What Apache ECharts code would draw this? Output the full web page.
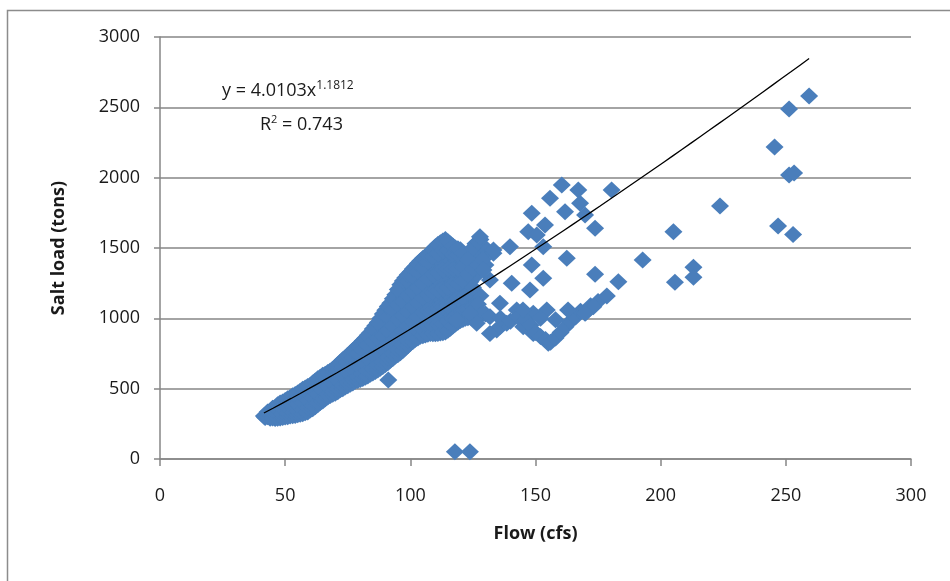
<!DOCTYPE html>
<html>
<head>
<meta charset="utf-8">
<script src="https://cdn.jsdelivr.net/npm/echarts@6/dist/echarts.min.js"></script>
<style>
html,body{margin:0;padding:0;background:#fff;}
#chart{width:950px;height:581px;}
</style>
</head>
<body>
<div id="chart"></div>
<script>
// ---- Data (Flow cfs, Salt load tons) ----
const xTicks = [0, 50, 100, 150, 200, 250, 300];
const yTicks = [0, 500, 1000, 1500, 2000, 2500, 3000];
const xTitle = 'Flow (cfs)';
const yTitle = 'Salt load (tons)';
const trendA = 4.0103;
const trendB = 1.1812;
const rSquared = '0.743';

// dense band of observations (even flows)
const bandPoints = [
  [42,295],[42.5,318],[41.5,305],
  [44,290],[44,320],[44.5,345],
  [46,288],[46,325],[46,365],[46.5,305],
  [48,292],[48,335],[48,375],[48,398],
  [50,298],[50,340],[50,380],[50,415],
  [52,305],[52,350],[52,395],[52,438],
  [54,310],[54,360],[54,410],[54,458],
  [56,318],[56,372],[56,425],[56,482],
  [58,328],[58,385],[58,445],[58,505],
  [60,348],[60,405],[60,465],[60,522],
  [62,372],[62,430],[62,490],[62,555],
  [64,402],[64,460],[64,525],[64,582],
  [66,428],[66,488],[66,548],[66,603],
  [68,452],[68,512],[68,570],[68,625],
  [70,468],[70,530],[70,592],[70,648],
  [72,492],[72,555],[72,622],[72,688],
  [74,512],[74,580],[74,650],[74,718],
  [76,532],[76,600],[76,675],[76,752],
  [78,552],[78,625],[78,705],[78,788],
  [80,566],[80,645],[80,730],[80,818],
  [82,582],[82,668],[82,760],[82,858],
  [84,602],[84,690],[84,790],[84,898],
  [86,622],[86,710],[86,800],[86,880],[86,948],
  [88,646],[88,735],[88,830],[88,920],[88,998],
  [90,672],[90,765],[90,862],[90,960],[90,1058],
  [92,702],[92,795],[92,895],[92,1005],[92,1108],
  [94,732],[94,828],[94,930],[94,1040],[94,1168],
  [96,756],[96,855],[96,960],[96,1080],[96,1150],[96,1238],
  [98,792],[98,890],[98,995],[98,1100],[98,1200],[98,1288],
  [100,822],[100,920],[100,1025],[100,1130],[100,1230],[100,1328],
  [102,852],[102,950],[102,1060],[102,1165],[102,1270],[102,1368],
  [104,872],[104,975],[104,1085],[104,1195],[104,1300],[104,1408],
  [106,882],[106,990],[106,1100],[106,1210],[106,1330],[106,1438],
  [108,892],[108,1000],[108,1115],[108,1230],[108,1350],[108,1468],
  [110,890],[110,1005],[110,1125],[110,1250],[110,1380],[110,1508],
  [112,896],[112,1010],[112,1135],[112,1260],[112,1400],[112,1538],
  [114,902],[114,1020],[114,1150],[114,1280],[114,1420],[114,1560],
  [116,930],[116,1040],[116,1160],[116,1290],[116,1410],[116,1528],
  [118,960],[118,1070],[118,1190],[118,1300],[118,1400],[118,1500],
  [120,985],[120,1090],[120,1200],[120,1310],[120,1400],[120,1488],
  [122,1000],[122,1100],[122,1210],[122,1330],[122,1440],
  [124,1010],[124,1120],[124,1260],[124,1380],[124,1478],
  [126,1030],[126,1140],[126,1300],[126,1420],[126,1530],
  [128,1040],[128,1160],[128,1440],[128,1560],
  [130,1030],[130,1380],[130,1500]
];

// dense band of observations (odd flows)
const bandPoints2 = [
  [43,300],[43,335],
  [45,292],[45,330],[45,360],
  [47,290],[47,315],[47,355],[47,385],
  [49,295],[49,320],[49,358],[49,405],
  [51,300],[51,325],[51,365],[51,400],[51,428],
  [53,308],[53,330],[53,378],[53,420],[53,450],
  [55,315],[55,340],[55,390],[55,440],[55,470],
  [57,322],[57,350],[57,400],[57,455],[57,495],
  [59,335],[59,365],[59,415],[59,475],[59,515],
  [61,358],[61,378],[61,435],[61,495],[61,540],
  [63,385],[63,400],[63,460],[63,520],[63,570],
  [65,412],[65,430],[65,490],[65,550],[65,595],
  [67,440],[67,460],[67,515],[67,575],[67,615],
  [69,460],[69,480],[69,540],[69,600],[69,638],
  [71,478],[71,500],[71,560],[71,625],[71,670],
  [73,500],[73,520],[73,590],[73,655],[73,705],
  [75,520],[75,545],[75,615],[75,690],[75,738],
  [77,540],[77,565],[77,640],[77,720],[77,770],
  [79,558],[79,588],[79,665],[79,750],[79,805],
  [81,572],[81,605],[81,690],[81,775],[81,840],
  [83,590],[83,625],[83,715],[83,810],[83,880],
  [85,612],[85,645],[85,740],[85,835],[85,925],
  [87,632],[87,668],[87,760],[87,855],[87,970],
  [89,658],[89,690],[89,785],[89,880],[89,1030],
  [91,685],[91,720],[91,815],[91,915],[91,1010],[91,1085],
  [93,715],[93,750],[93,845],[93,950],[93,1060],[93,1140],
  [95,742],[95,780],[95,880],[95,990],[95,1100],[95,1205],
  [97,772],[97,810],[97,910],[97,1020],[97,1120],[97,1265],
  [99,805],[99,845],[99,945],[99,1050],[99,1160],[99,1260],[99,1310],
  [101,835],[101,875],[101,980],[101,1085],[101,1190],[101,1300],[101,1350],
  [103,860],[103,905],[103,1010],[103,1115],[103,1220],[103,1330],[103,1390],
  [105,876],[105,930],[105,1040],[105,1145],[105,1250],[105,1360],[105,1425],
  [107,886],[107,945],[107,1055],[107,1170],[107,1280],[107,1400],[107,1455],
  [109,890],[109,950],[109,1060],[109,1185],[109,1310],[109,1440],[109,1490],
  [111,892],[111,955],[111,1070],[111,1195],[111,1325],[111,1460],[111,1525],
  [113,898],[113,960],[113,1080],[113,1210],[113,1345],[113,1480],[113,1550],
  [115,915],[115,975],[115,1090],[115,1220],[115,1350],[115,1480],[115,1545],
  [117,945],[117,1000],[117,1115],[117,1240],[117,1350],[117,1455],[117,1515],
  [119,972],[119,1030],[119,1140],[119,1250],[119,1350],[119,1450],[119,1495],
  [121,992],[121,1045],[121,1150],[121,1265],[121,1370],[121,1465],
  [123,1005],[123,1060],[123,1180],[123,1310],[123,1420],
  [125,1020],[125,1080],[125,1220],[125,1350],[125,1500],
  [127,1035],[127,1100],[127,1380],[127,1545],
  [129,1035],[129,1420]
];

// scattered observations
const scatterPoints = [
  [91.2,562],[117.8,52],[123.8,52],
  [133.2,1462],[131.8,1273],[129.2,1344],[127.8,1580],
  [139.8,1509],[153.1,1509],[133.2,1486],[148.5,1379],[140.5,1249],[147.8,1201],[153.1,1285],[162.5,1427],
  [148.5,1747],[153.8,1663],[147.1,1616],[150.5,1592],[155.8,1853],[160.5,1948],[167.1,1912],[161.8,1758],
  [167.8,1818],[169.8,1735],[180.4,1912],[173.8,1641],
  [123.8,1036],[118.5,988],[126.5,965],[131.8,1012],[134.5,917],[131.8,893],[135.8,941],[135.8,1107],
  [138.5,965],[142.5,1059],[145.1,941],[149.1,1036],[149.1,893],[154.5,1059],[155.1,822],
  [136,1000],[140,980],[143,1010],[146,990],[148,950],[150,900],[152,870],[154,850],[156,830],
  [158,860],[160,900],[162,940],[164,980],[166,1010],[168,1050],[170,1040],[145,1060],[152,1000],
  [158,990],[163,1060],[172,1090],[175,1120],[178.5,1159],
  [173.8,1313],[183.1,1260],[205.7,1256],[213.1,1363],[213.1,1292],[192.8,1415],[205.1,1616],
  [173.1,1083],[169.8,1036],[223.7,1799],
  [245.5,2218],[251.3,2488],[259.3,2581],[251.3,2019],[253.3,2033],[246.9,1656],[252.9,1596]
];

const allPoints = bandPoints.concat(bandPoints2, scatterPoints);

// trendline built from the displayed power-fit coefficients
const xsAll = allPoints.map(p => p[0]);
const xMin = Math.min.apply(null, xsAll), xMax = Math.max.apply(null, xsAll);
const trendPts = [];
for (let i = 0; i <= 60; i++) {
  const x = xMin + (xMax - xMin) * i / 60;
  trendPts.push([x, trendA * Math.pow(x, trendB)]);
}

const chart = echarts.init(document.getElementById('chart'), null, {renderer: 'canvas'});
const FONT = 'Open Sans';
chart.setOption({
  animation: false,
  backgroundColor: '#ffffff',
  grid: {left: 160, right: 39, top: 37, bottom: 122, containLabel: false},
  xAxis: {
    type: 'value', min: xTicks[0], max: xTicks[xTicks.length - 1], interval: 50,
    name: xTitle, nameLocation: 'middle', nameGap: 66,
    nameTextStyle: {fontFamily: FONT, fontWeight: 'bold', fontSize: 18, color: '#1a1a1a'},
    axisLine: {show: true, onZero: false, lineStyle: {color: '#868686', width: 1.5}},
    axisTick: {show: true, inside: false, length: 7, lineStyle: {color: '#868686', width: 1.5}},
    axisLabel: {margin: 28, fontFamily: FONT, fontSize: 18, color: '#1a1a1a',
                formatter: v => String(v)},
    splitLine: {show: false}
  },
  yAxis: {
    type: 'value', min: yTicks[0], max: yTicks[yTicks.length - 1], interval: 500,
    name: yTitle, nameLocation: 'middle', nameGap: 92, nameRotate: 90,
    nameTextStyle: {fontFamily: FONT, fontWeight: 'bold', fontSize: 18, color: '#1a1a1a'},
    axisLine: {show: true, onZero: false, lineStyle: {color: '#868686', width: 1.5}},
    axisTick: {show: true, inside: false, length: 6, lineStyle: {color: '#868686', width: 1.5}},
    axisLabel: {margin: 20, fontFamily: FONT, fontSize: 18, color: '#1a1a1a',
                formatter: v => String(v)},
    splitLine: {show: true, lineStyle: {color: '#868686', width: 1.5}}
  },
  graphic: [
    {type: 'rect', left: 5, top: 8, shape: {width: 980, height: 620},
     style: {fill: 'none', stroke: '#8c8c8c', lineWidth: 1.5}, z: 0},
    {type: 'text', left: 222, top: 80, z: 10,
     style: {rich: {
       a: {fontFamily: FONT, fontSize: 18, fill: '#1a1a1a'},
       s: {fontFamily: FONT, fontSize: 12, fill: '#1a1a1a', verticalAlign: 'top', padding: [0,0,10,0]}
     }, text: '{a|y = ' + trendA.toFixed(4) + 'x}{s|' + trendB.toFixed(4) + '}'}},
    {type: 'text', left: 260, top: 114, z: 10,
     style: {rich: {
       a: {fontFamily: FONT, fontSize: 18, fill: '#1a1a1a'},
       s: {fontFamily: FONT, fontSize: 11, fill: '#1a1a1a', padding: [0,0,10,0]}
     }, text: '{a|R}{s|2}{a| = ' + rSquared + '}'}}
  ],
  series: [
    {type: 'scatter', data: allPoints, symbol: 'diamond', symbolSize: [18, 17],
     itemStyle: {color: '#4a7ebb', opacity: 1}, z: 2},
    {type: 'line', data: trendPts, showSymbol: false, symbol: 'none', smooth: false,
     lineStyle: {color: '#000000', width: 1.3}, z: 3}
  ]
});
</script>
</body>
</html>
